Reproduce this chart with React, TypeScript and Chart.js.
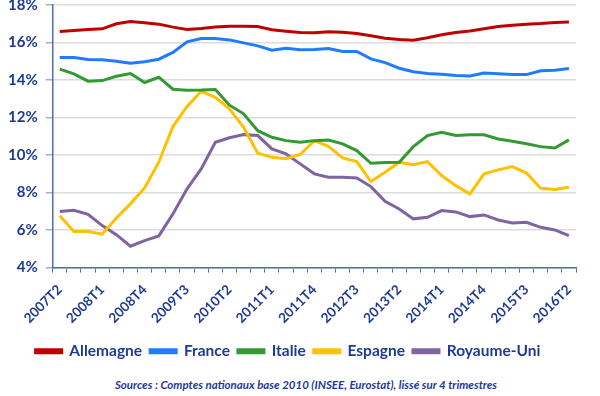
import React, { useEffect, useRef } from "react";
import { Chart, registerables } from "chart.js";

Chart.register(...registerables);

const quarters: string[] = [];
for (let y = 2007; y <= 2016; y++) {
  for (let q = 1; q <= 4; q++) {
    if (y === 2007 && q < 2) continue;
    if (y === 2016 && q > 2) continue;
    quarters.push(`${y}T${q}`);
  }
}

const allemagne = [16.59, 16.64, 16.69, 16.73, 17.0, 17.12, 17.05, 16.98, 16.82, 16.69, 16.75, 16.83, 16.87, 16.87, 16.85, 16.68, 16.6, 16.53, 16.52, 16.57, 16.55, 16.48, 16.36, 16.23, 16.16, 16.12, 16.25, 16.41, 16.53, 16.62, 16.73, 16.85, 16.92, 16.98, 17.01, 17.07, 17.1];
const france = [15.2, 15.2, 15.09, 15.08, 15.0, 14.9, 14.97, 15.11, 15.47, 16.04, 16.21, 16.21, 16.14, 15.98, 15.82, 15.59, 15.7, 15.61, 15.63, 15.68, 15.52, 15.52, 15.13, 14.93, 14.63, 14.44, 14.35, 14.31, 14.24, 14.22, 14.38, 14.33, 14.29, 14.29, 14.49, 14.52, 14.61];
const italie = [14.58, 14.33, 13.94, 13.97, 14.2, 14.35, 13.87, 14.15, 13.51, 13.46, 13.47, 13.5, 12.66, 12.2, 11.3, 10.95, 10.77, 10.68, 10.77, 10.8, 10.6, 10.24, 9.56, 9.6, 9.62, 10.45, 11.04, 11.22, 11.04, 11.08, 11.08, 10.86, 10.74, 10.6, 10.45, 10.38, 10.81];
const espagne = [6.77, 5.92, 5.92, 5.78, 6.65, 7.4, 8.25, 9.62, 11.52, 12.59, 13.4, 13.08, 12.46, 11.48, 10.1, 9.88, 9.81, 10.03, 10.77, 10.47, 9.85, 9.65, 8.59, 9.08, 9.62, 9.48, 9.65, 8.91, 8.37, 7.93, 9.0, 9.21, 9.39, 9.04, 8.23, 8.16, 8.28];
const royaumeUni = [6.99, 7.06, 6.84, 6.24, 5.76, 5.14, 5.44, 5.69, 6.86, 8.2, 9.26, 10.68, 10.92, 11.09, 11.04, 10.33, 10.06, 9.53, 9.0, 8.82, 8.82, 8.78, 8.32, 7.54, 7.13, 6.6, 6.68, 7.04, 6.97, 6.72, 6.81, 6.54, 6.38, 6.42, 6.15, 6.01, 5.71];

const seriesNames = ["Allemagne", "France", "Italie", "Espagne", "Royaume-Uni"];
const seriesColors = ["#c00000", "#1f7bff", "#339933", "#ffc000", "#8064a2"];
const source = "Sources : Comptes nationaux base 2010  (INSEE, Eurostat), lissé sur 4 trimestres";

const TEXT = "#1f3a93";
const AXIS = "#4f71a8";
const FONT = "Lato, 'Open Sans', sans-serif";

export default function App() {
  const ref = useRef<HTMLCanvasElement>(null);
  useEffect(() => {
    if (!ref.current) return;
    const values = [allemagne, france, italie, espagne, royaumeUni];
    const chart = new Chart(ref.current, {
      type: "line",
      data: {
        labels: quarters,
        datasets: values.map((d, i) => ({
          label: seriesNames[i],
          data: d,
          borderColor: seriesColors[i],
          backgroundColor: seriesColors[i],
          borderWidth: 3,
          pointRadius: 0,
          tension: 0,
        })),
      },
      options: {
        responsive: false,
        animation: false,
        layout: { padding: { left: 0, right: 24, top: 0, bottom: 0 } },
        scales: {
          x: {
            offset: true,
            border: { color: AXIS, width: 1.5 },
            grid: { drawOnChartArea: false, drawTicks: true, tickLength: 5, color: AXIS, offset: true },
            ticks: {
              autoSkip: false,
              maxRotation: 45,
              minRotation: 45,
              color: TEXT,
              font: { family: FONT, size: 13.5, weight: "bold" },
              padding: 9,
              callback: (_v: any, i: number) => (i % 3 === 0 ? quarters[i] : ""),
            },
          },
          y: {
            min: 4,
            max: 18,
            border: { color: AXIS, width: 1.5 },
            grid: { color: "#dcdcdc", lineWidth: 1.5, tickLength: 7, tickColor: "#9fb0cf" },
            ticks: {
              stepSize: 2,
              color: TEXT,
              font: { family: FONT, size: 15, weight: "bold" },
              padding: 8,
              callback: (v: any) => `${v}%`,
            },
          },
        },
        plugins: {
          legend: {
            position: "bottom",
            labels: {
              boxWidth: 26,
              boxHeight: 3,
              color: TEXT,
              padding: 8,
              font: { family: FONT, size: 15.5, weight: "bold" },
            },
          },
          tooltip: { enabled: false },
        },
      },
    });
    return () => chart.destroy();
  }, []);
  return (
    <div style={{ position: "fixed", left: 0, top: 0, width: 600, height: 396, overflow: "hidden", background: "#fff" }}>
      <canvas ref={ref} width={600} height={381} style={{ position: "absolute", left: 0, top: -12, display: "block" }} />
      <div
        style={{
          position: "absolute",
          left: 6,
          width: 600,
          top: 378,
          textAlign: "center",
          fontFamily: FONT,
          fontStyle: "italic",
          fontWeight: "bold",
          fontSize: 11.5,
          color: TEXT,
        }}
      >
        {source}
      </div>
    </div>
  );
}
